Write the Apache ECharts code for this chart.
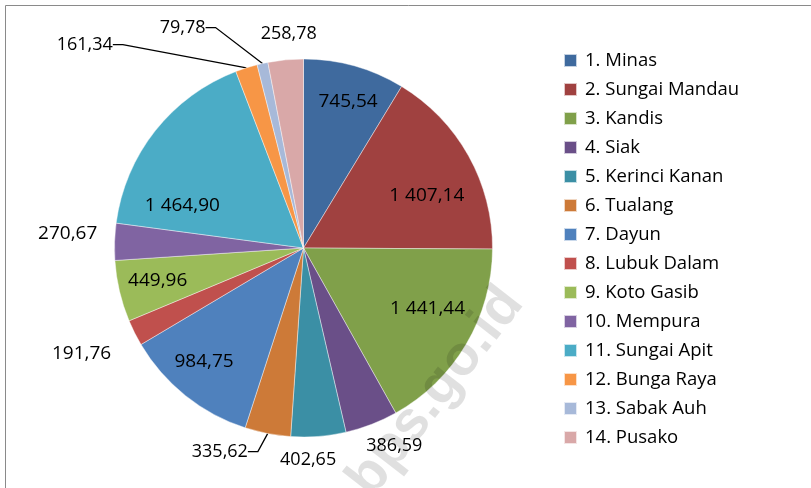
<!DOCTYPE html>
<html>
<head>
<meta charset="utf-8">
<script src="https://cdn.jsdelivr.net/npm/echarts@6/dist/echarts.min.js"></script>
<style>
  html, body { margin: 0; padding: 0; background: #fff; }
  #chart { width: 811px; height: 488px; }
</style>
</head>
<body>
<div id="chart"></div>
<script>
(function() {
  'use strict';

  // === Data ===
  var districts = [
    '1. Minas', '2. Sungai Mandau', '3. Kandis', '4. Siak', '5. Kerinci Kanan',
    '6. Tualang', '7. Dayun', '8. Lubuk Dalam', '9. Koto Gasib', '10. Mempura',
    '11. Sungai Apit', '12. Bunga Raya', '13. Sabak Auh', '14. Pusako'
  ];
  var values = [
    745.54, 1407.14, 1441.44, 386.59, 402.65,
    335.62, 984.75, 191.76, 449.96, 270.67,
    1464.90, 161.34, 79.78, 258.78
  ];

  // === Styling ===
  var colors = [
    '#3F6A9E', '#A04140', '#80A04A', '#6A4F88', '#3B8FA5',
    '#CD7A38', '#4F81BD', '#C0504D', '#9BBB59', '#8064A2',
    '#4BACC6', '#F79646', '#A7B9D9', '#D9A8A8'
  ];
  // label placement: [angle nudge from slice middle (deg), distance as share of radius]
  var labelSpots = [
    [1.3, 0.81], [6, 0.71], [-4.6, 0.73], [-3.6, 1.15], [3.3, 1.12],
    [11.4, 1.165], [2.5, 0.80], [1.3, 1.30], [0.8, 0.79], [1.5, 1.25],
    [-18.8, 0.68], [-29.5, 1.58], [-16.2, 1.33], [1.5, 1.135]
  ];
  var withLeader = [5, 11, 12];
  var narrowLabel = [3, 4, 5, 11, 12, 13];

  var CX = 303.5, CY = 248, R = 189;
  var FONT = '"Open Sans", "Noto Sans", sans-serif';
  var NARROW = '"Liberation Sans Narrow", "Open Sans", sans-serif';

  function fmt(v) {
    var parts = v.toFixed(2).split('.');
    var whole = parts[0].replace(/\B(?=(\d{3})+(?!\d))/g, ' ');
    return whole + ',' + parts[1];
  }

  var total = values.reduce(function(a, b) { return a + b; }, 0);
  var midAngles = [];
  var acc = 0;
  values.forEach(function(v) {
    midAngles.push((acc + v / 2) / total * 360);
    acc += v;
  });

  var seriesData = values.map(function(v, i) {
    var inside = labelSpots[i][1] < 1;
    var narrow = narrowLabel.indexOf(i) >= 0;
    return {
      name: districts[i],
      value: v,
      itemStyle: { color: colors[i] },
      label: {
        position: inside ? 'inside' : 'outside',
        fontFamily: narrow ? NARROW : FONT,
        fontSize: narrow ? 18 : 19
      },
      labelLine: { show: withLeader.indexOf(i) >= 0 }
    };
  });

  var chart = echarts.init(document.getElementById('chart'), null, { renderer: 'canvas' });

  chart.setOption({
    animation: false,
    backgroundColor: '#fff',
    graphic: [
      {
        type: 'rect',
        shape: { x: 5.5, y: 5.5, width: 900, height: 600 },
        style: { fill: 'none', stroke: '#8a8a8a', lineWidth: 1 },
        silent: true
      },
      {
        type: 'text',
        x: 436, y: 392,
        rotation: 52 * Math.PI / 180,
        z: 100,
        style: {
          text: 'bps.go.id',
          font: 'bold 56px "Liberation Sans", Arial, sans-serif',
          fill: 'rgba(0,0,0,0.12)',
          align: 'center',
          verticalAlign: 'middle'
        },
        silent: true
      }
    ],
    legend: {
      orient: 'vertical',
      left: 563,
      top: 46,
      padding: 0,
      itemWidth: 13,
      itemHeight: 13,
      itemGap: 0,
      icon: 'rect',
      selectedMode: false,
      data: districts,
      textStyle: {
        fontFamily: FONT,
        fontSize: 18.5,
        color: '#000',
        lineHeight: 29,
        height: 29,
        padding: [0, 0, 0, 3]
      }
    },
    series: [{
      type: 'pie',
      center: [CX, CY],
      radius: R,
      startAngle: 90,
      clockwise: true,
      avoidLabelOverlap: false,
      minShowLabelAngle: 0,
      itemStyle: { borderColor: 'rgba(255,255,255,0.7)', borderWidth: 0.6 },
      label: {
        show: true,
        color: '#000',
        formatter: function(p) { return fmt(p.value); }
      },
      labelLine: {
        length: 8,
        length2: 10,
        lineStyle: { color: '#000', width: 1.3 }
      },
      labelLayout: function(params) {
        var i = params.dataIndex;
        var a = (midAngles[i] + labelSpots[i][0]) * Math.PI / 180;
        var d = R * labelSpots[i][1];
        return {
          x: CX + d * Math.sin(a),
          y: CY - d * Math.cos(a),
          align: 'center',
          verticalAlign: 'middle'
        };
      },
      data: seriesData
    }]
  });
})();
</script>
</body>
</html>
